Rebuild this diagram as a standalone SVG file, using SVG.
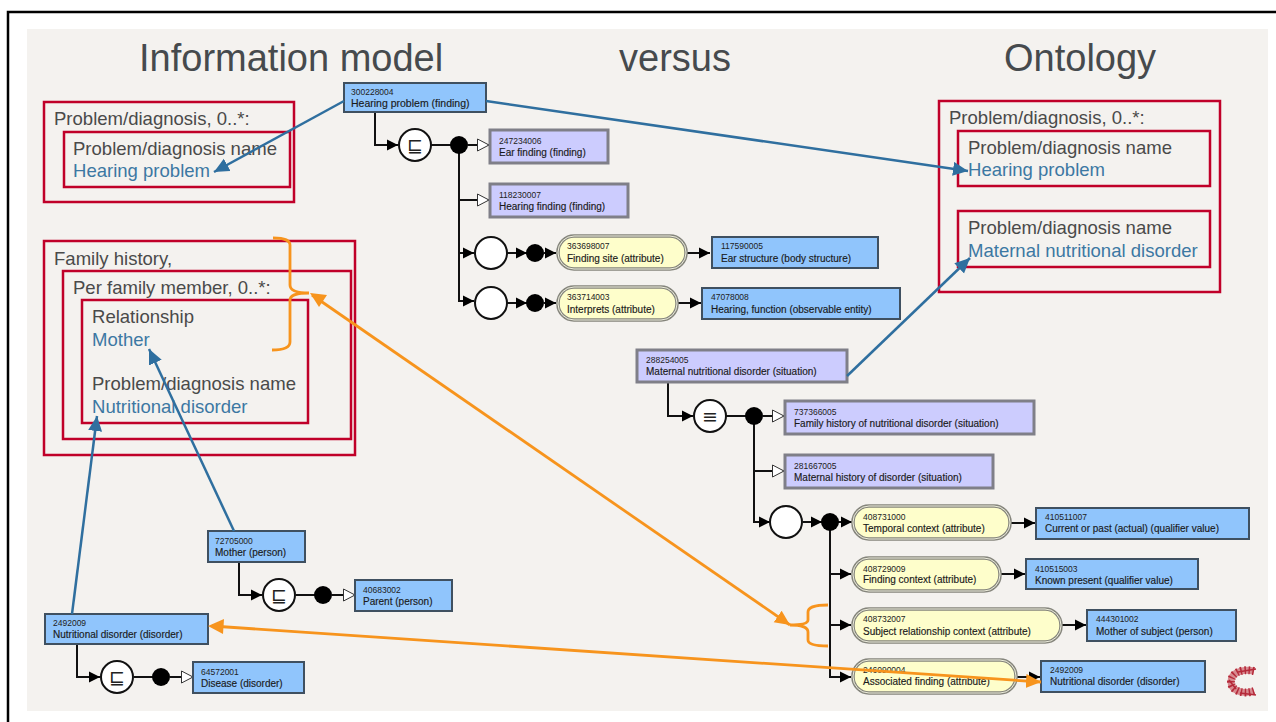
<svg xmlns="http://www.w3.org/2000/svg" width="1276" height="722" viewBox="0 0 1276 722">
<defs>
<marker id="ab" markerUnits="userSpaceOnUse" markerWidth="13" markerHeight="14" refX="11" refY="6" orient="auto"><path d="M0 0.5L11 6L0 11.5Z" fill="#000"/></marker>
<marker id="ao" markerUnits="userSpaceOnUse" markerWidth="14" markerHeight="14" refX="12.5" refY="7" orient="auto"><path d="M1 1L12.5 7L1 13Z" fill="#fff" stroke="#333" stroke-width="1"/></marker>
<marker id="blue" markerUnits="userSpaceOnUse" markerWidth="18" markerHeight="16" refX="15" refY="7" orient="auto"><path d="M0 0L15 7L0 14Z" fill="#2f6f9f"/></marker>
<marker id="or" markerUnits="userSpaceOnUse" markerWidth="18" markerHeight="16" refX="15" refY="7" orient="auto"><path d="M0 0L15 7L0 14Z" fill="#f7941d"/></marker>
</defs>
<style>
text{font-family:"Liberation Sans",Arial,sans-serif}
.h{font-size:38px;fill:#464a4d}
.t{font-size:18.55px;fill:#4a4a4a}
.v{font-size:18.55px;fill:#3c78a3}
.r{fill:none;stroke:#c00029;stroke-width:2.5}
.n{fill:#90c5fc;stroke:#3f5060;stroke-width:2}
.p{fill:#ccccfe;stroke:#7f7f88;stroke-width:3}
.a{fill:#fefecb;stroke:#85857c;stroke-width:3.5}
.a2{fill:none;stroke:#eeeedd;stroke-width:1}
.i{font-size:8.5px;fill:#222}
.l{font-size:10px;fill:#1a1a1a;stroke:#1a1a1a;stroke-width:.15}
.c{fill:#fff;stroke:#111;stroke-width:2}
.d{fill:#000}
.e{fill:none;stroke:#111;stroke-width:2}
.bl{fill:none;stroke:#2f6f9f;stroke-width:2.5}
.ol{fill:none;stroke:#f7941d;stroke-width:2.8}
.of{fill:#f7941d}
.sy{font-family:"DejaVu Sans",sans-serif;font-size:19px;fill:#222;text-anchor:middle}
</style>
<rect x="0" y="0" width="1276" height="722" fill="#fff"/>
<rect x="27" y="29" width="1241" height="682" fill="#f4f2ef"/>
<path d="M8 722V12H1276" fill="none" stroke="#000" stroke-width="2.5"/>
<g id="titles">
<text class="h" x="139" y="71">Information model</text>
<text class="h" x="619" y="71">versus</text>
<text class="h" x="1004" y="71">Ontology</text>
</g>
<g id="info-boxes">
<rect class="r" x="44" y="102" width="250" height="100"/>
<rect class="r" x="64" y="132" width="226" height="55"/>
<text class="t" x="54" y="125">Problem/diagnosis, 0..*:</text>
<text class="t" x="73" y="155">Problem/diagnosis name</text>
<text class="v" x="73" y="177">Hearing problem</text>
<rect class="r" x="44" y="241" width="311" height="214"/>
<rect class="r" x="63" y="271" width="288" height="168"/>
<rect class="r" x="82" y="300" width="226" height="123"/>
<text class="t" x="54" y="265">Family history,</text>
<text class="t" x="73" y="294">Per family member, 0..*:</text>
<text class="t" x="92" y="323">Relationship</text>
<text class="v" x="92" y="346">Mother</text>
<text class="t" x="92" y="390">Problem/diagnosis name</text>
<text class="v" x="92" y="413">Nutritional disorder</text>
</g>
<g id="ontology-boxes">
<rect class="r" x="939" y="101" width="281" height="191"/>
<rect class="r" x="958" y="131" width="252" height="55"/>
<rect class="r" x="958" y="211" width="252" height="56"/>
<text class="t" x="949" y="124">Problem/diagnosis, 0..*:</text>
<text class="t" x="968" y="154">Problem/diagnosis name</text>
<text class="v" x="968" y="176">Hearing problem</text>
<text class="t" x="968" y="234">Problem/diagnosis name</text>
<text class="v" x="968" y="257">Maternal nutritional disorder</text>
</g>
<g id="connectors">
<path class="e" d="M375 113V145H398" marker-end="url(#ab)"/>
<path class="e" d="M431 145H459"/>
<path class="e" d="M468 145H489" marker-end="url(#ao)"/>
<path class="e" d="M459 145V301H474" marker-end="url(#ab)"/>
<path class="e" d="M459 200H489" marker-end="url(#ao)"/>
<path class="e" d="M459 253H474" marker-end="url(#ab)"/>
<path class="e" d="M507 253H527" marker-end="url(#ab)"/>
<path class="e" d="M544 253H556" marker-end="url(#ab)"/>
<path class="e" d="M687 253H710" marker-end="url(#ab)"/>
<path class="e" d="M507 303H527" marker-end="url(#ab)"/>
<path class="e" d="M544 303H556" marker-end="url(#ab)"/>
<path class="e" d="M678 303H701" marker-end="url(#ab)"/>
<path class="e" d="M668 382V416H693" marker-end="url(#ab)"/>
<path class="e" d="M726 416H754"/>
<path class="e" d="M763 416H784" marker-end="url(#ao)"/>
<path class="e" d="M754 416V522H770" marker-end="url(#ab)"/>
<path class="e" d="M754 471H784" marker-end="url(#ao)"/>
<path class="e" d="M803 522H822" marker-end="url(#ab)"/>
<path class="e" d="M838 522H852" marker-end="url(#ab)"/>
<path class="e" d="M1011 523H1035" marker-end="url(#ab)"/>
<path class="e" d="M830 522V677H851" marker-end="url(#ab)"/>
<path class="e" d="M830 574H851" marker-end="url(#ab)"/>
<path class="e" d="M830 625H851" marker-end="url(#ab)"/>
<path class="e" d="M1000 574H1025" marker-end="url(#ab)"/>
<path class="e" d="M1062 625H1086" marker-end="url(#ab)"/>
<path class="e" d="M1016 677H1040" marker-end="url(#ab)"/>
<path class="e" d="M239 562V595H262" marker-end="url(#ab)"/>
<path class="e" d="M296 595H323"/>
<path class="e" d="M332 595H355" marker-end="url(#ao)"/>
<path class="e" d="M77 644V677H100" marker-end="url(#ab)"/>
<path class="e" d="M134 677H161"/>
<path class="e" d="M170 677H193" marker-end="url(#ao)"/>
</g>
<g id="n300228004"><rect class="n" x="344" y="83" width="142" height="29"/><text class="i" x="351" y="95">300228004</text><text class="l" x="351" y="107" style="font-size:10.5px">Hearing problem (finding)</text></g>
<g id="sub1"><circle class="c" cx="415" cy="145" r="16"/><text class="sy" x="415" y="152">⊑</text></g>
<circle class="d" cx="459" cy="145" r="9"/>
<g id="n247234006"><rect class="p" x="490" y="130" width="118" height="33"/><text class="i" x="499" y="144">247234006</text><text class="l" x="499" y="156">Ear finding (finding)</text></g>
<g id="n118230007"><rect class="p" x="490" y="184" width="138" height="33"/><text class="i" x="499" y="198">118230007</text><text class="l" x="499" y="210">Hearing finding (finding)</text></g>
<g id="g1"><circle class="c" cx="491" cy="253" r="16"/><circle class="d" cx="535" cy="253" r="9"/></g>
<g id="n363698007"><rect class="a" x="558" y="236" width="128" height="33" rx="16"/><rect class="a2" x="558" y="236" width="128" height="33" rx="16"/><text class="i" x="567" y="249">363698007</text><text class="l" x="567" y="262">Finding site (attribute)</text></g>
<g id="n117590005"><rect class="n" x="712" y="237" width="166" height="31"/><text class="i" x="721" y="249">117590005</text><text class="l" x="721" y="262">Ear structure (body structure)</text></g>
<g id="g2"><circle class="c" cx="491" cy="303" r="16"/><circle class="d" cx="535" cy="303" r="9"/></g>
<g id="n363714003"><rect class="a" x="558" y="287" width="119" height="33" rx="16"/><rect class="a2" x="558" y="287" width="119" height="33" rx="16"/><text class="i" x="567" y="300">363714003</text><text class="l" x="567" y="313">Interprets (attribute)</text></g>
<g id="n47078008"><rect class="n" x="702" y="288" width="198" height="31"/><text class="i" x="711" y="300">47078008</text><text class="l" x="711" y="313">Hearing, function (observable entity)</text></g>
<g id="n288254005"><rect class="p" x="637" y="350" width="210" height="32"/><text class="i" x="646" y="363">288254005</text><text class="l" x="646" y="375">Maternal nutritional disorder (situation)</text></g>
<g id="eq1"><circle class="c" cx="710" cy="416" r="16"/><text class="sy" x="710" y="423">≡</text></g>
<circle class="d" cx="754" cy="416" r="9"/>
<g id="n737366005"><rect class="p" x="785" y="401" width="249" height="33"/><text class="i" x="794" y="415">737366005</text><text class="l" x="794" y="427">Family history of nutritional disorder (situation)</text></g>
<g id="n281667005"><rect class="p" x="785" y="455" width="208" height="33"/><text class="i" x="794" y="469">281667005</text><text class="l" x="794" y="481">Maternal history of disorder (situation)</text></g>
<g id="g3"><circle class="c" cx="786" cy="522" r="16"/><circle class="d" cx="830" cy="522" r="9"/></g>
<g id="n408731000"><rect class="a" x="853" y="506" width="157" height="33" rx="16"/><rect class="a2" x="853" y="506" width="157" height="33" rx="16"/><text class="i" x="863" y="520">408731000</text><text class="l" x="863" y="532">Temporal context (attribute)</text></g>
<g id="n410511007"><rect class="n" x="1036" y="508" width="213" height="31"/><text class="i" x="1045" y="520">410511007</text><text class="l" x="1045" y="532">Current or past (actual) (qualifier value)</text></g>
<g id="n408729009"><rect class="a" x="853" y="558" width="147" height="33" rx="16"/><rect class="a2" x="853" y="558" width="147" height="33" rx="16"/><text class="i" x="863" y="572">408729009</text><text class="l" x="863" y="583">Finding context (attribute)</text></g>
<g id="n410515003"><rect class="n" x="1026" y="559" width="172" height="30"/><text class="i" x="1035" y="572">410515003</text><text class="l" x="1035" y="584">Known present (qualifier value)</text></g>
<g id="n408732007"><rect class="a" x="853" y="609" width="208" height="33" rx="16"/><rect class="a2" x="853" y="609" width="208" height="33" rx="16"/><text class="i" x="863" y="622">408732007</text><text class="l" x="863" y="635">Subject relationship context (attribute)</text></g>
<g id="n444301002"><rect class="n" x="1087" y="610" width="149" height="31"/><text class="i" x="1096" y="622">444301002</text><text class="l" x="1096" y="635">Mother of subject (person)</text></g>
<g id="n246090004"><rect class="a" x="853" y="660" width="163" height="33" rx="16"/><rect class="a2" x="853" y="660" width="163" height="33" rx="16"/><text class="i" x="863" y="673">246090004</text><text class="l" x="863" y="685">Associated finding (attribute)</text></g>
<g id="n2492009b"><rect class="n" x="1041" y="661" width="164" height="31"/><text class="i" x="1050" y="673">2492009</text><text class="l" x="1050" y="685">Nutritional disorder (disorder)</text></g>
<g id="n72705000"><rect class="n" x="208" y="531" width="97" height="31"/><text class="i" x="215" y="544">72705000</text><text class="l" x="215" y="556">Mother (person)</text></g>
<g id="sub2"><circle class="c" cx="279" cy="595" r="16"/><text class="sy" x="279" y="602">⊑</text></g>
<circle class="d" cx="323" cy="595" r="9"/>
<g id="n40683002"><rect class="n" x="355" y="580" width="97" height="31"/><text class="i" x="363" y="593">40683002</text><text class="l" x="363" y="605">Parent (person)</text></g>
<g id="n2492009a"><rect class="n" x="45" y="614" width="163" height="30"/><text class="i" x="53" y="626">2492009</text><text class="l" x="53" y="638">Nutritional disorder (disorder)</text></g>
<g id="sub3"><circle class="c" cx="117" cy="677" r="16"/><text class="sy" x="117" y="684">⊑</text></g>
<circle class="d" cx="161" cy="677" r="9"/>
<g id="n64572001"><rect class="n" x="193" y="662" width="111" height="31"/><text class="i" x="201" y="675">64572001</text><text class="l" x="201" y="687">Disease (disorder)</text></g>
<g id="overlay-connectors">
<path class="bl" d="M344 101L214 172" marker-end="url(#blue)"/>
<path class="bl" d="M486 101L968 171" marker-end="url(#blue)"/>
<path class="bl" d="M847 376L970 258" marker-end="url(#blue)"/>
<path class="bl" d="M72 614L97 416" marker-end="url(#blue)"/>
<path class="bl" d="M234 531L149 349" marker-end="url(#blue)"/>
<path class="ol" d="M273 238Q290 238 290 245V285Q290 293 309 293Q290 293 290 300V342Q290 350 272 350"/>
<path class="ol" d="M828 605Q808 605 808 612V620Q808 625 790 625Q808 625 808 632V640Q808 646 828 646"/>
<path class="ol" d="M312 295L790 625" marker-end="url(#or)"/>
<path class="of" d="M310 293L327 295L319 307Z"/>
<path class="ol" d="M212 626L1041 682" marker-end="url(#or)"/>
<path class="of" d="M208 626L224 619L223 634Z"/>
</g>
<g id="logo" fill="none"><path d="M1254 671C1240 668 1231 674 1231 682C1231 690 1242 695 1254 691" stroke="#d88a90" stroke-width="7"/><path d="M1254 671C1240 668 1231 674 1231 682C1231 690 1242 695 1254 691" stroke="#b52a3a" stroke-width="8" stroke-dasharray="1.5 2.5"/><path d="M1256 669L1238 672M1229 680L1236 689M1240 693L1256 695" stroke="#b52a3a" stroke-width="1.5"/></g>
</svg>
